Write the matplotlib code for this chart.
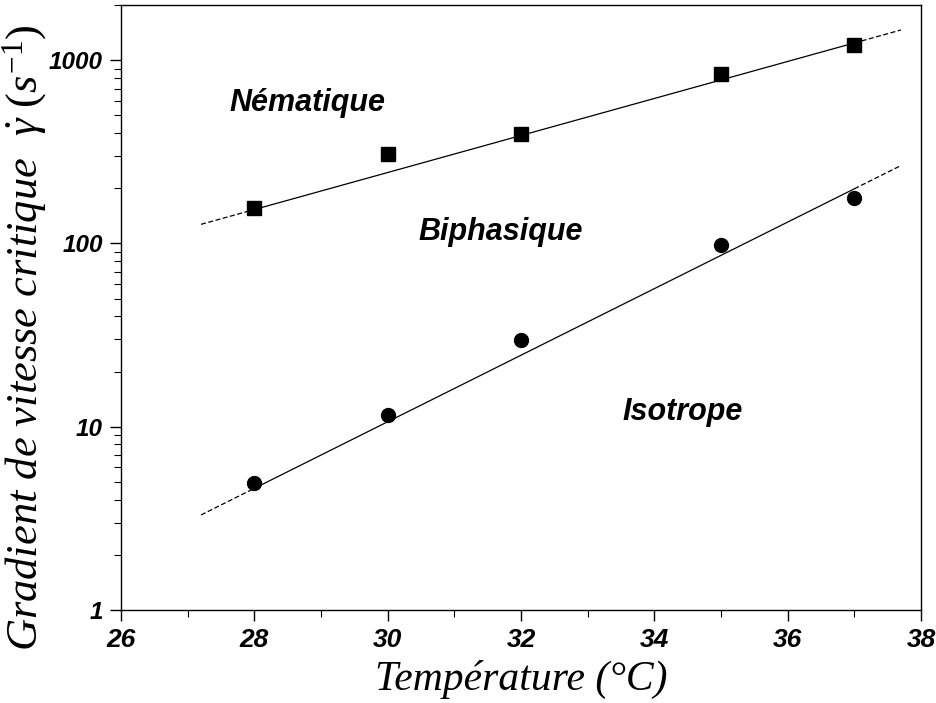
import matplotlib.pyplot as plt
import numpy as np
from matplotlib.ticker import LogLocator, FixedLocator, NullFormatter

plt.rcParams['mathtext.fontset'] = 'custom'
plt.rcParams['mathtext.rm'] = 'Liberation Serif'
plt.rcParams['mathtext.it'] = 'Liberation Serif:italic'

# data
temp = [28, 30, 32, 35, 37]
nematique = [157, 306, 394, 838, 1208]
isotrope = [4.9, 11.6, 29.9, 97.5, 176]

# fitted lines: log10(y) = a + b*T
fit_nem = (-0.643, 0.101)
fit_iso = (-4.421, 0.1816)
t_solid = (28, 37)
t_dash = (27.2, 37.7)

xticks = [26, 28, 30, 32, 34, 36, 38]
yticks = [1, 10, 100, 1000]

fig = plt.figure(figsize=(9.36, 7.03), dpi=100)
ax = fig.add_axes([0.1293, 0.1323, 0.8547, 0.8606])

def fit_line(fit, t0, t1, style):
    t = np.array([t0, t1])
    ax.plot(t, 10 ** (fit[0] + fit[1] * t), color='black', lw=0.9, linestyle=style)

for fit in (fit_nem, fit_iso):
    fit_line(fit, t_dash[0], t_solid[0], (0, (4, 2)))
    fit_line(fit, t_solid[0], t_solid[1], '-')
    fit_line(fit, t_solid[1], t_dash[1], (0, (4, 2)))

ax.plot(temp, nematique, 's', color='black', ms=10.5, ls='none')
ax.plot(temp, isotrope, 'o', color='black', ms=10, ls='none')

ax.set_yscale('log')
ax.set_xlim(26, 38)
ax.set_ylim(1, 2000)
ax.xaxis.set_major_locator(FixedLocator(xticks))
ax.xaxis.set_minor_locator(FixedLocator([27, 29, 31, 33, 35, 37]))
ax.yaxis.set_major_locator(FixedLocator(yticks))
ax.yaxis.set_minor_locator(LogLocator(base=10, subs=np.arange(2, 10)))
ax.yaxis.set_minor_formatter(NullFormatter())
ax.set_xticklabels([str(v) for v in xticks])
ax.set_yticklabels([str(v) for v in yticks])

tickfont = dict(family='Liberation Sans', weight='bold', style='italic')
for lab in ax.get_xticklabels():
    lab.set(**tickfont, size=19)
for lab in ax.get_yticklabels():
    lab.set(**tickfont, size=17.5)

ax.tick_params(which='major', direction='out', length=8, width=1, pad=5)
ax.tick_params(which='minor', direction='out', length=5, width=0.8)
for s in ax.spines.values():
    s.set_linewidth(1)

ax.set_xlabel('Température (°C)', family='Liberation Serif', style='italic',
              size=30, labelpad=6)
ax.set_ylabel(r'Gradient de vitesse critique  $\dot{\gamma}\ (s^{-1})$',
              family='Liberation Serif', style='italic', size=32)
ax.yaxis.set_label_coords(-0.09, 0.45)

labfont = dict(family='Liberation Sans', weight='bold', style='italic', size=22,
               ha='center', va='center')
ax.text(28.79, 582, 'Nématique', **labfont)
ax.text(31.7, 116, 'Biphasique', **labfont)
ax.text(34.43, 12.1, 'Isotrope', **labfont)

fig.savefig('out.png', dpi=100)
